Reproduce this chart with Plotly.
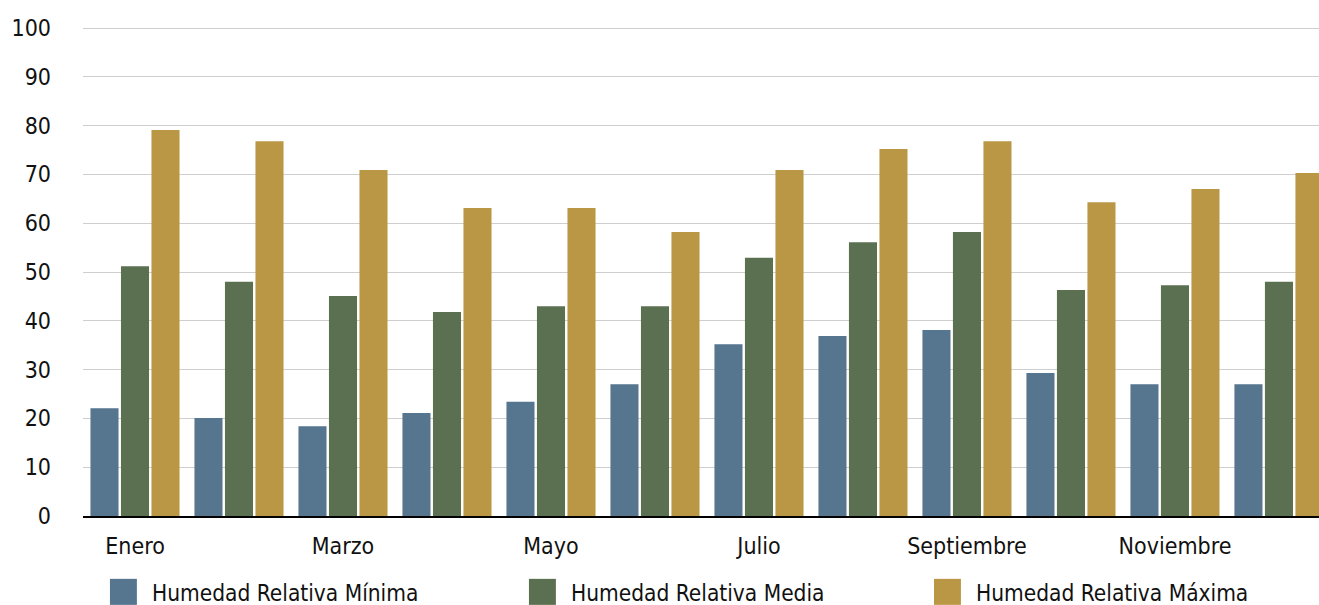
import plotly.graph_objects as go

# Monthly relative humidity (%)
meses = ["Enero", "Febrero", "Marzo", "Abril", "Mayo", "Junio",
         "Julio", "Agosto", "Septiembre", "Octubre", "Noviembre", "Diciembre"]
hr_minima = [22.1, 20.1, 18.4, 21.1, 23.4, 27.0, 35.2, 36.9, 38.1, 29.3, 27.0, 27.0]
hr_media = [51.2, 48.0, 45.1, 41.8, 43.0, 43.0, 52.9, 56.1, 58.2, 46.3, 47.3, 48.0]
hr_maxima = [79.1, 76.8, 70.9, 63.1, 63.1, 58.2, 70.9, 75.2, 76.8, 64.3, 67.0, 70.3]

series_names = ["Humedad Relativa Mínima", "Humedad Relativa Media", "Humedad Relativa Máxima"]
series_values = [hr_minima, hr_media, hr_maxima]
colors = ["#56758F", "#5B7050", "#BA9744"]

y_ticks = list(range(0, 101, 10))
x_tick_labels = meses[::2]

FONT = "DejaVu Sans Condensed, Liberation Sans Narrow, sans-serif"

fig = go.Figure()
for name, vals, col in zip(series_names, series_values, colors):
    fig.add_trace(go.Bar(x=meses, y=vals, name=name, marker_color=col,
                         marker_line_width=0, showlegend=False))

# Legend drawn as large square swatches with labels below the plot
# (paper coordinates; plot area is 1236 x 491 px)
legend_x = [0.0218, 0.3608, 0.6885]   # swatch left edges
sw_w = 0.0218
sw_top, sw_bot = -0.128, -0.181
for name, col, x0 in zip(series_names, colors, legend_x):
    fig.add_shape(type="rect", xref="paper", yref="paper",
                  x0=x0, x1=x0 + sw_w, y0=sw_bot, y1=sw_top,
                  fillcolor=col, line_width=0)
    fig.add_annotation(xref="paper", yref="paper", x=x0 + sw_w + 0.0105, y=-0.157,
                       xanchor="left", yanchor="middle", showarrow=False,
                       text=name, font=dict(family=FONT, size=22.5, color="#111111"))

fig.update_layout(
    width=1319, height=605,
    margin=dict(l=83, r=0, t=25, b=89),
    plot_bgcolor="white", paper_bgcolor="white",
    barmode="group", bargap=0.12, bargroupgap=0.08,
    font=dict(family=FONT, size=23, color="#111111"),
)
fig.update_xaxes(
    type="category", range=[-0.5, 11.385],
    tickmode="array", tickvals=x_tick_labels, ticktext=x_tick_labels,
    tickfont=dict(size=23), ticks="", ticklabelstandoff=8,
    showline=True, linecolor="black", linewidth=2, showgrid=False,
)
fig.update_yaxes(
    range=[0, 100.615], tickvals=y_ticks, tickfont=dict(size=23),
    showgrid=True, gridcolor="#CFCFCF", gridwidth=1,
    zeroline=False, ticks="", ticklabelstandoff=31,
)

fig.write_html("out.html")
